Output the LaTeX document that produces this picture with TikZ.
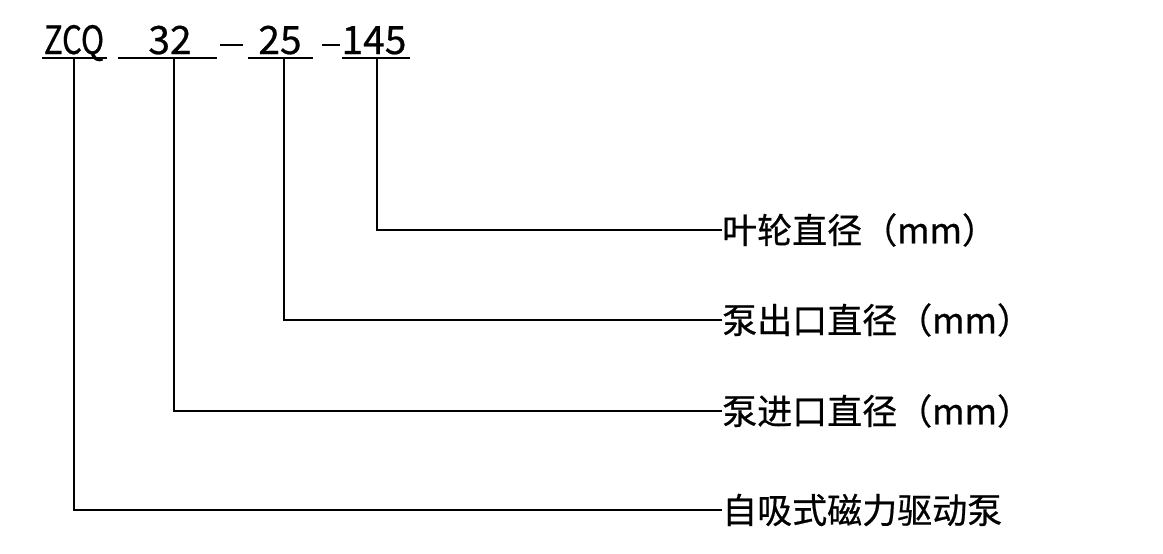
\documentclass[tikz,border=0pt]{standalone}
\usepackage{fontspec}
\setmainfont{Noto Sans CJK SC}[FakeBold=0.6]
\begin{document}
\begin{tikzpicture}[x=1pt,y=-1pt,
  ln/.style={line width=2.8pt},
  lbl/.style={anchor=west,inner sep=0pt,font=\fontsize{35}{37}\selectfont},
  top/.style={anchor=base,inner sep=0pt,font=\fontsize{39}{42}\selectfont}]
\useasboundingbox[fill=white] (0,0) rectangle (1163,554);
\node[top,xscale=0.8] (zcq) at (74,54) {ZCQ};
\node[top] (n32) at (170,54) {32};
\node[top] (n25) at (280,54) {25};
\node[top] (n145) at (374,54) {145};
\draw[ln] (220,45) -- (243,45);
\draw[ln] (322,45) -- (340,45);
\coordinate (u1l) at (42,58); \coordinate (u1r) at (107,58);
\coordinate (u2l) at (118,58); \coordinate (u2r) at (217,58);
\coordinate (u3l) at (248,58); \coordinate (u3r) at (313,58);
\coordinate (u4l) at (342,58); \coordinate (u4r) at (410,58);
\draw[ln] (u1l) -- (u1r); \draw[ln] (u2l) -- (u2r);
\draw[ln] (u3l) -- (u3r); \draw[ln] (u4l) -- (u4r);
\node[lbl] (l1) at (722,230) {叶轮直径（mm）};
\node[lbl] (l2) at (722,320) {泵出口直径（mm）};
\node[lbl] (l3) at (722,411) {泵进口直径（mm）};
\node[lbl] (l4) at (722,510) {自吸式磁力驱动泵};
\draw[ln] (377,58) |- (l1.west);
\draw[ln] (284,58) |- (l2.west);
\draw[ln] (174,58) |- (l3.west);
\draw[ln] (74,58) |- (l4.west);
\end{tikzpicture}
\end{document}
